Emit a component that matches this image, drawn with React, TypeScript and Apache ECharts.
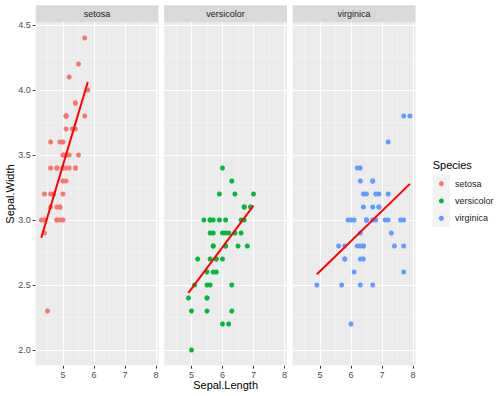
import React, { useEffect, useRef } from "react";
import * as echarts from "echarts";

const species = ["setosa", "versicolor", "virginica"];
const colors = ["#F8766D", "#00BA38", "#619CFF"];

const setosaLength = [5.1,4.9,4.7,4.6,5.0,5.4,4.6,5.0,4.4,4.9,5.4,4.8,4.8,4.3,5.8,5.7,5.4,5.1,5.7,5.1,5.4,5.1,4.6,5.1,4.8,5.0,5.0,5.2,5.2,4.7,4.8,5.4,5.2,5.5,4.9,5.0,5.5,4.9,4.4,5.1,5.0,4.5,4.4,5.0,5.1,4.8,5.1,4.6,5.3,5.0];
const setosaWidth = [3.5,3.0,3.2,3.1,3.6,3.9,3.4,3.4,2.9,3.1,3.7,3.4,3.0,3.0,4.0,4.4,3.9,3.5,3.8,3.8,3.4,3.7,3.6,3.3,3.4,3.0,3.4,3.5,3.4,3.2,3.1,3.4,4.1,4.2,3.1,3.2,3.5,3.6,3.0,3.4,3.5,2.3,3.2,3.5,3.8,3.0,3.8,3.2,3.7,3.3];
const versicolorLength = [7.0,6.4,6.9,5.5,6.5,5.7,6.3,4.9,6.6,5.2,5.0,5.9,6.0,6.1,5.6,6.7,5.6,5.8,6.2,5.6,5.9,6.1,6.3,6.1,6.4,6.6,6.8,6.7,6.0,5.7,5.5,5.5,5.8,6.0,5.4,6.0,6.7,6.3,5.6,5.5,5.5,6.1,5.8,5.0,5.6,5.7,5.7,6.2,5.1,5.7];
const versicolorWidth = [3.2,3.2,3.1,2.3,2.8,2.8,3.3,2.4,2.9,2.7,2.0,3.0,2.2,2.9,2.9,3.1,3.0,2.7,2.2,2.5,3.2,2.8,2.5,2.8,2.9,3.0,2.8,3.0,2.9,2.6,2.4,2.4,2.7,2.7,3.0,3.4,3.1,2.3,3.0,2.5,2.6,3.0,2.6,2.3,2.7,3.0,2.9,2.9,2.5,2.8];
const virginicaLength = [6.3,5.8,7.1,6.3,6.5,7.6,4.9,7.3,6.7,7.2,6.5,6.4,6.8,5.7,5.8,6.4,6.5,7.7,7.7,6.0,6.9,5.6,7.7,6.3,6.7,7.2,6.2,6.1,6.4,7.2,7.4,7.9,6.4,6.3,6.1,7.7,6.3,6.4,6.0,6.9,6.7,6.9,5.8,6.8,6.7,6.7,6.3,6.5,6.2,5.9];
const virginicaWidth = [3.3,2.7,3.0,2.9,3.0,3.0,2.5,2.9,2.5,3.6,3.2,2.7,3.0,2.5,2.8,3.2,3.0,3.8,2.6,2.2,3.2,2.8,2.8,2.7,3.3,3.2,2.8,3.0,2.8,3.0,2.8,3.8,2.8,2.8,2.6,3.0,3.4,3.1,3.0,3.1,3.1,3.1,2.7,3.2,3.3,3.0,2.5,3.0,3.4,3.0];

// fitted regression line endpoints
const setosaFit = [[4.3, 2.864], [5.8, 4.062]];
const versicolorFit = [[4.9, 2.439], [7.0, 3.110]];
const virginicaFit = [[4.9, 2.583], [7.9, 3.278]];

const xTicks = [5, 6, 7, 8];
const xMinor = [4.5, 5.5, 6.5, 7.5];
const yTicks = [2.0, 2.5, 3.0, 3.5, 4.0, 4.5];
const yMinor = [2.25, 2.75, 3.25, 3.75, 4.25];

const lengths = [setosaLength, versicolorLength, virginicaLength];
const widths = [setosaWidth, versicolorWidth, virginicaWidth];
const fits = [setosaFit, versicolorFit, virginicaFit];

export default function App() {
  const ref = useRef<HTMLDivElement>(null);
  useEffect(() => {
    if (!ref.current) return;
    const chart = echarts.init(ref.current, null, { renderer: "svg" });
    const panelLefts = [35.7, 164.2, 292.7];
    const panelTop = 22.4;
    const panelW = 122.8;
    const panelH = 343.2;
    const font = "Liberation Sans, Arial, sans-serif";

    const grids = panelLefts.map((l) => ({
      left: l, top: panelTop, width: panelW, height: panelH,
      show: true, backgroundColor: "#EBEBEB", borderWidth: 0, containLabel: false,
    }));
    const xAxes = panelLefts.map((_, i) => ({
      type: "value", gridIndex: i, min: 4.12, max: 8.08,
      splitLine: { show: false }, axisLine: { show: false },
      axisTick: { show: true, customValues: xTicks, length: 3, lineStyle: { color: "#333333", width: 1 } },
      axisLabel: { customValues: xTicks, margin: 5, color: "#4D4D4D", fontSize: 9, fontFamily: font },
    }));
    const yAxes = panelLefts.map((_, i) => ({
      type: "value", gridIndex: i, min: 1.88, max: 4.52,
      splitLine: { show: false }, axisLine: { show: false },
      axisTick: { show: i === 0, customValues: yTicks, length: 3, lineStyle: { color: "#333333", width: 1 } },
      axisLabel: { show: i === 0, customValues: yTicks, margin: 5, color: "#4D4D4D", fontSize: 9, fontFamily: font, formatter: (v: number) => v.toFixed(1) },
    }));

    const gridLineData = [
      ...xMinor.map((v) => ({ xAxis: v, lineStyle: { color: "#F5F5F5", width: 0.6, type: "solid" } })),
      ...yMinor.map((v) => ({ yAxis: v, lineStyle: { color: "#F5F5F5", width: 0.6, type: "solid" } })),
      ...xTicks.map((v) => ({ xAxis: v, lineStyle: { color: "#FFFFFF", width: 1.1, type: "solid" } })),
      ...yTicks.map((v) => ({ yAxis: v, lineStyle: { color: "#FFFFFF", width: 1.1, type: "solid" } })),
    ];

    const series: any[] = [];
    species.forEach((name, i) => {
      series.push({
        type: "scatter", name: "grid" + i, xAxisIndex: i, yAxisIndex: i, data: [], z: 1, silent: true,
        markLine: { silent: true, z: 1, symbol: ["none", "none"], label: { show: false }, animation: false, data: gridLineData },
      });
      series.push({
        type: "scatter", name, xAxisIndex: i, yAxisIndex: i, z: 3, symbolSize: 5,
        itemStyle: { color: colors[i], opacity: 1 },
        data: lengths[i].map((x, k) => [x, widths[i][k]]),
      });
      series.push({
        type: "line", name: name + " fit", xAxisIndex: i, yAxisIndex: i, z: 4, symbol: "none",
        lineStyle: { color: "#FF0000", width: 2 }, data: fits[i],
      });
    });

    const graphics: any[] = [];
    species.forEach((name, i) => {
      graphics.push({ type: "rect", shape: { x: panelLefts[i], y: 5.3, width: panelW, height: 17.1 }, style: { fill: "#D9D9D9" }, silent: true });
      graphics.push({ type: "text", x: panelLefts[i] + panelW / 2, y: 14, style: { text: name, fill: "#1A1A1A", fontSize: 9, fontFamily: font, align: "center", verticalAlign: "middle" } });
    });
    graphics.push({ type: "text", x: 10, y: panelTop + panelH / 2, rotation: Math.PI / 2, style: { text: "Sepal.Width", fill: "#000000", fontSize: 11, fontFamily: font, align: "center", verticalAlign: "middle" } });
    graphics.push({ type: "text", x: (panelLefts[0] + panelLefts[2] + panelW) / 2, y: 385, style: { text: "Sepal.Length", fill: "#000000", fontSize: 11, fontFamily: font, align: "center", verticalAlign: "middle" } });
    graphics.push({ type: "text", x: 432.7, y: 165, style: { text: "Species", fill: "#000000", fontSize: 11, fontFamily: font, align: "left", verticalAlign: "middle" } });
    species.forEach((name, i) => {
      const y0 = 175 + i * 17.3;
      graphics.push({ type: "rect", shape: { x: 432.7, y: y0, width: 17.3, height: 17.3 }, style: { fill: "#F2F2F2" } });
      graphics.push({ type: "circle", shape: { cx: 441.35, cy: y0 + 8.65, r: 2.5 }, style: { fill: colors[i] } });
      graphics.push({ type: "text", x: 455, y: y0 + 8.65, style: { text: name, fill: "#1A1A1A", fontSize: 9, fontFamily: font, align: "left", verticalAlign: "middle" } });
    });

    chart.setOption({
      animation: false,
      backgroundColor: "#FFFFFF",
      grid: grids,
      xAxis: xAxes,
      yAxis: yAxes,
      series,
      graphic: graphics,
    });
    return () => chart.dispose();
  }, []);
  return <div ref={ref} style={{ position: "fixed", left: 0, top: 0, width: 504, height: 396 }} />;
}
